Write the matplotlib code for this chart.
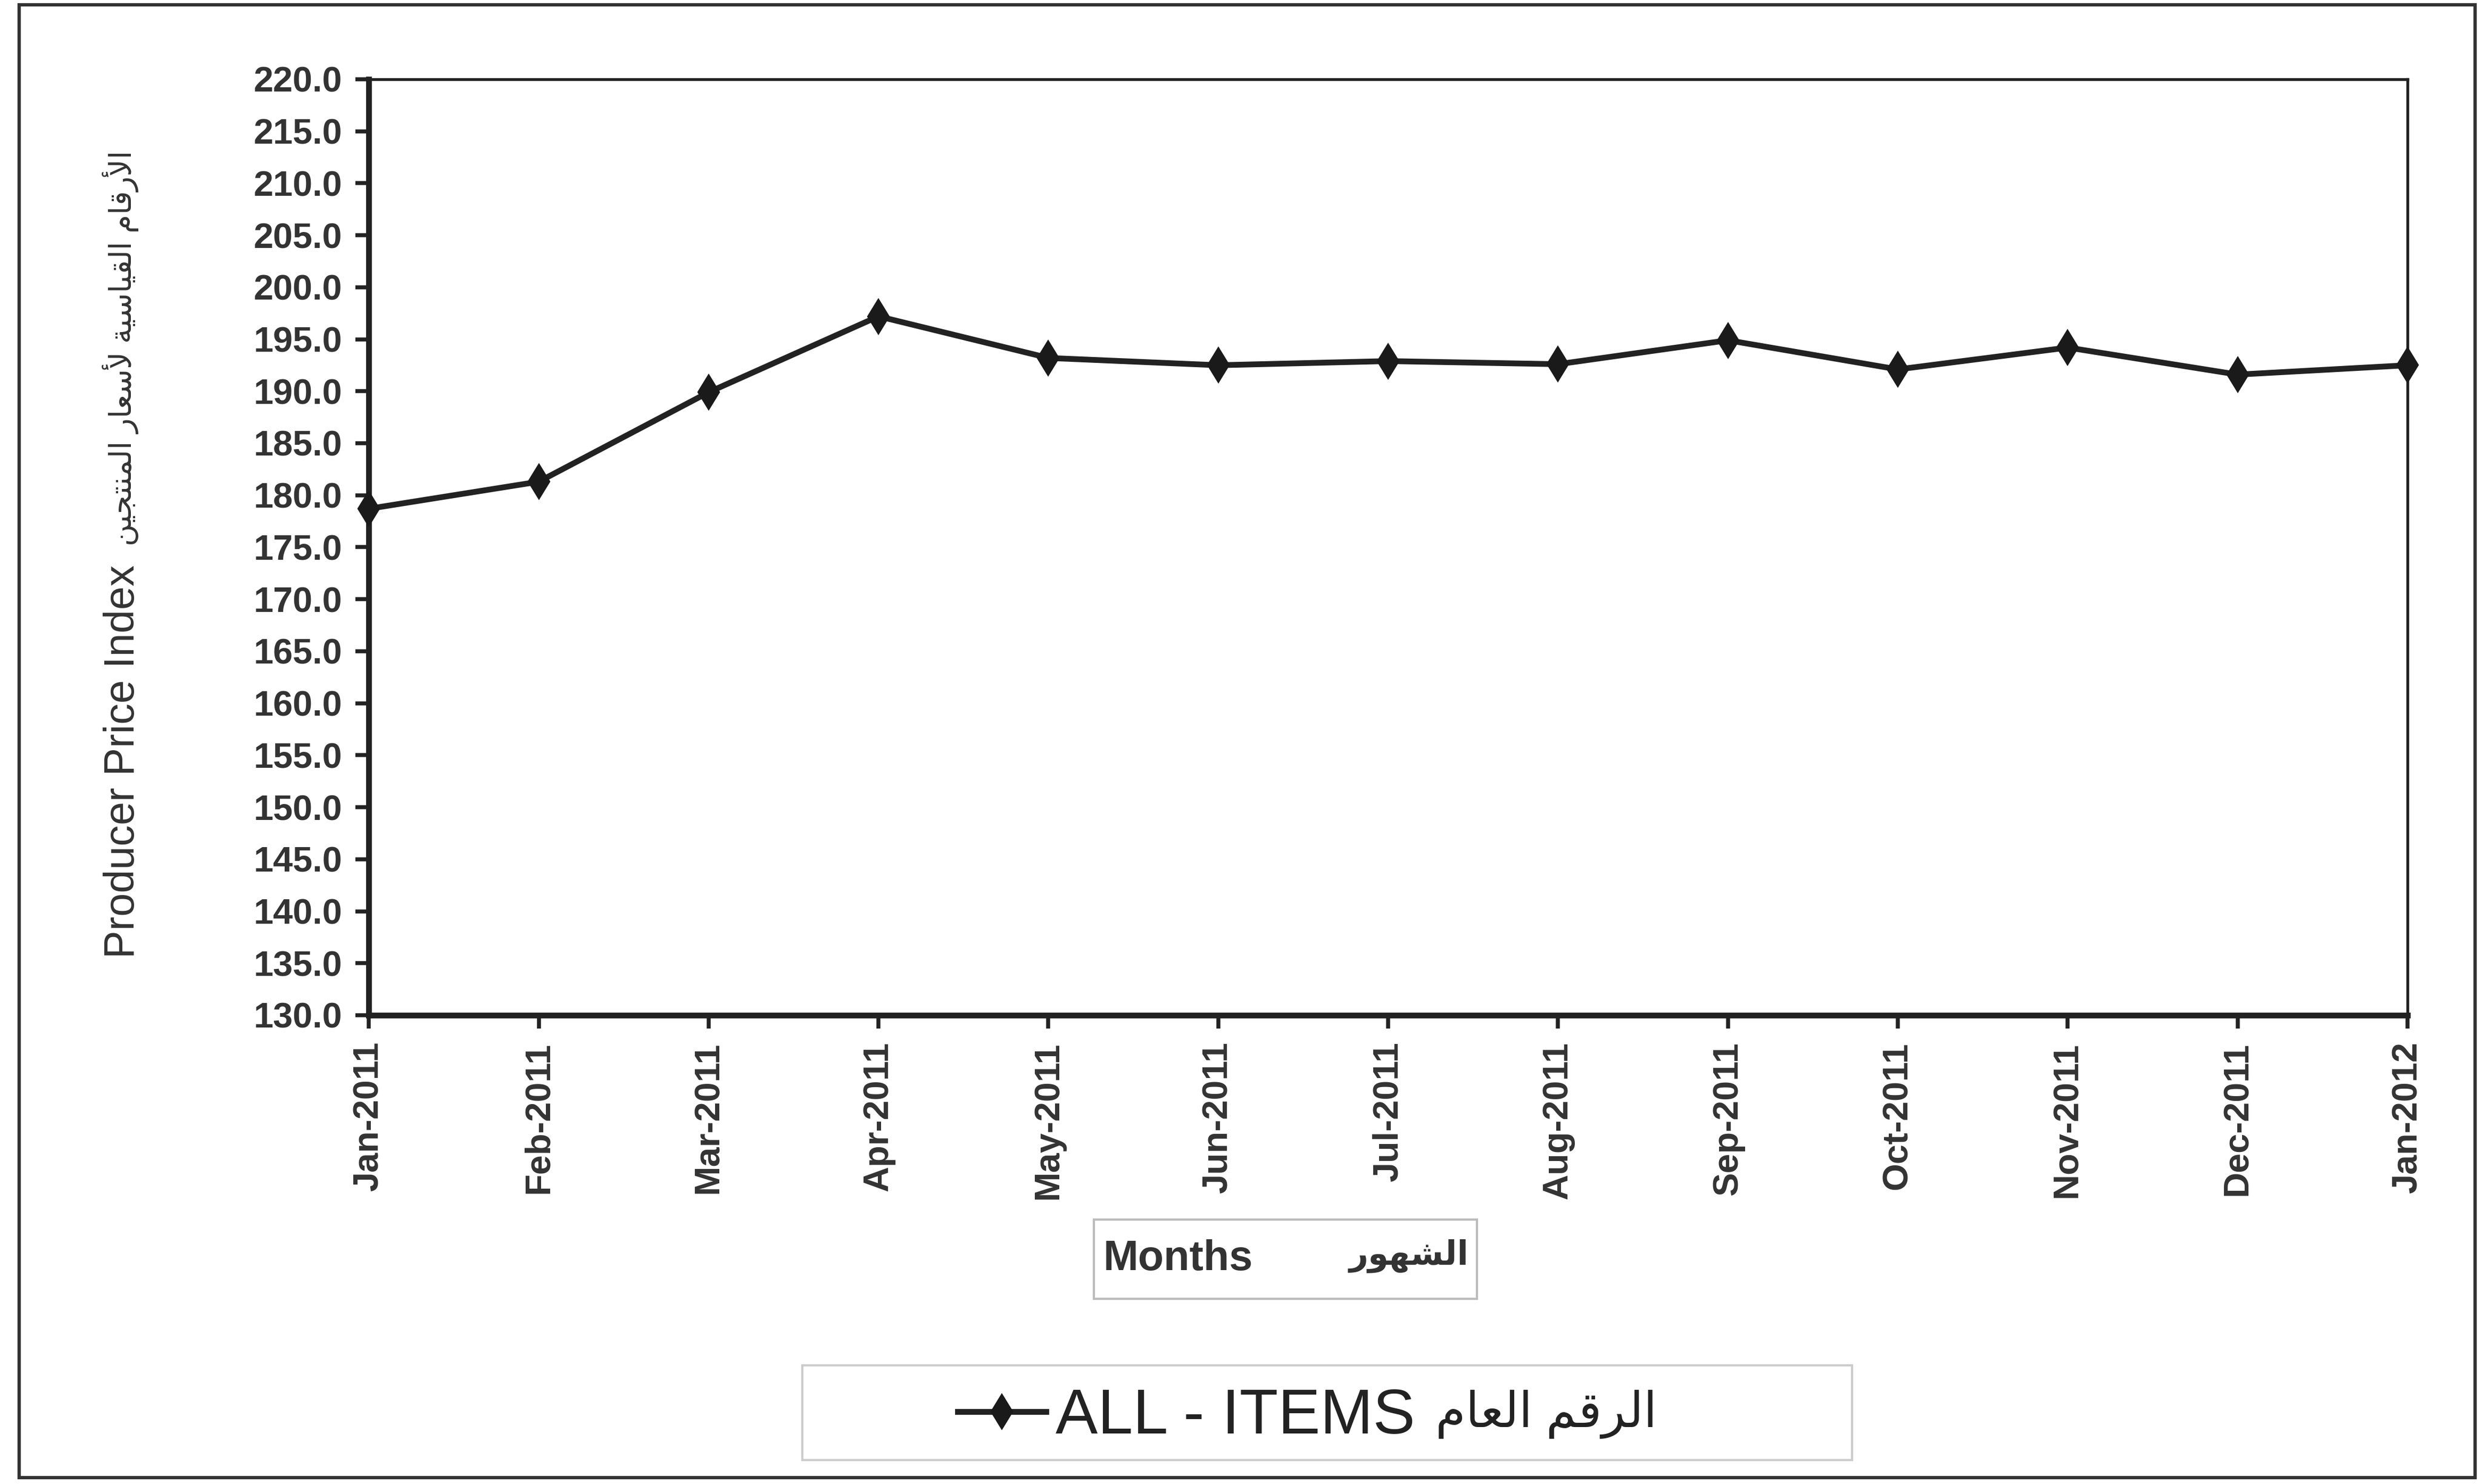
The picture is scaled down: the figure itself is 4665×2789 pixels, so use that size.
import numpy as np
import matplotlib
matplotlib.use("Agg")
import matplotlib.pyplot as plt
from matplotlib.patches import Rectangle
from matplotlib.ticker import MultipleLocator, FormatStrFormatter

plt.rcParams["font.family"] = ["Liberation Sans", "DejaVu Sans"]

months = ["Jan-2011", "Feb-2011", "Mar-2011", "Apr-2011", "May-2011", "Jun-2011",
          "Jul-2011", "Aug-2011", "Sep-2011", "Oct-2011", "Nov-2011", "Dec-2011",
          "Jan-2012"]
ppi = [178.7, 181.3, 189.9, 197.2, 193.2, 192.5, 192.9, 192.6, 194.9, 192.1, 194.2, 191.6, 192.5]

series_name = "ALL - ITEMS"
series_name_ar = "الرقم العام"
ylabel_en = "Producer Price Index"
ylabel_ar = "الأرقام القياسية لأسعار المنتجين"
xlabel_en = "Months"
xlabel_ar = "الشهور"

# matplotlib has no arabic shaping, so pick the presentation forms by hand
# forms: isolated, final, initial, medial
FORMS = {
    "ا": ("\uFE8D", "\uFE8E", None, None),
    "أ": ("\uFE83", "\uFE84", None, None),
    "ة": ("\uFE93", "\uFE94", None, None),
    "ت": ("\uFE95", "\uFE96", "\uFE97", "\uFE98"),
    "ج": ("\uFE9D", "\uFE9E", "\uFE9F", "\uFEA0"),
    "ر": ("\uFEAD", "\uFEAE", None, None),
    "س": ("\uFEB1", "\uFEB2", "\uFEB3", "\uFEB4"),
    "ش": ("\uFEB5", "\uFEB6", "\uFEB7", "\uFEB8"),
    "ع": ("\uFEC9", "\uFECA", "\uFECB", "\uFECC"),
    "ق": ("\uFED5", "\uFED6", "\uFED7", "\uFED8"),
    "ل": ("\uFEDD", "\uFEDE", "\uFEDF", "\uFEE0"),
    "م": ("\uFEE1", "\uFEE2", "\uFEE3", "\uFEE4"),
    "ن": ("\uFEE5", "\uFEE6", "\uFEE7", "\uFEE8"),
    "ه": ("\uFEE9", "\uFEEA", "\uFEEB", "\uFEEC"),
    "و": ("\uFEED", "\uFEEE", None, None),
    "ي": ("\uFEF1", "\uFEF2", "\uFEF3", "\uFEF4"),
}
LAM_ALEF = {"ا": ("\uFEFB", "\uFEFC"), "أ": ("\uFEF7", "\uFEF8")}


def shape_arabic(s):
    toks = []
    i = 0
    while i < len(s):
        if s[i] == "ل" and i + 1 < len(s) and s[i + 1] in LAM_ALEF:
            toks.append(("LA", s[i + 1]))
            i += 2
        else:
            toks.append(("C", s[i]))
            i += 1

    def joins_next(t):
        if t[0] == "LA":
            return False
        f = FORMS.get(t[1])
        return f is not None and f[2] is not None

    def joins_prev(t):
        return t[0] == "LA" or t[1] in FORMS

    out = []
    for k, t in enumerate(toks):
        pj = k > 0 and joins_next(toks[k - 1]) and joins_prev(t)
        nj = k + 1 < len(toks) and joins_next(t) and joins_prev(toks[k + 1])
        if t[0] == "LA":
            iso, fin = LAM_ALEF[t[1]]
            out.append(fin if pj else iso)
            continue
        f = FORMS.get(t[1])
        if f is None:
            out.append(t[1])
        elif pj and nj:
            out.append(f[3])
        elif pj:
            out.append(f[1])
        elif nj:
            out.append(f[2])
        else:
            out.append(f[0])
    return "".join(reversed(out))


fig = plt.figure(figsize=(4665 / 300, 2789 / 300), dpi=300)
ax = fig.add_axes([0.1486, 0.3159, 0.8214, 0.6307])

x = np.arange(len(months))
ax.plot(x, ppi, color="#222222", lw=2.6, marker="d", ms=10.5, mfc="#1a1a1a",
        mec="#1a1a1a", label=series_name, clip_on=False, zorder=5)

ax.set_xlim(0, len(months) - 1)
ax.set_ylim(130, 220)
ax.yaxis.set_major_locator(MultipleLocator(5))
ax.yaxis.set_major_formatter(FormatStrFormatter("%.1f"))
ax.set_xticks(x)
ax.set_xticklabels(months, rotation=90)

for lab in ax.get_xticklabels() + ax.get_yticklabels():
    lab.set_fontweight("bold")
    lab.set_fontsize(16)
    lab.set_color("#333333")

ax.tick_params(axis="both", direction="out", length=6, width=1.8, color="#222222", pad=6)
ax.spines["left"].set_linewidth(2.6)
ax.spines["bottom"].set_linewidth(2.6)
ax.spines["top"].set_linewidth(1.3)
ax.spines["right"].set_linewidth(1.3)
for sp in ax.spines.values():
    sp.set_color("#222222")

# y axis title: english at the bottom, arabic above it
fig.text(0.0497, 1 - 605 / 937, ylabel_en, rotation=90, ha="center", va="bottom",
         fontsize=19, color="#333333")
fig.text(0.0485, 1 - 95 / 937, shape_arabic(ylabel_ar), rotation=90, ha="center", va="top",
         fontsize=13.6, color="#333333")

# x axis title in its own box
fig.patches.append(Rectangle((691 / 1568, 1 - 820 / 937), 242 / 1568, 50 / 937,
                             transform=fig.transFigure, fill=False, ec="#bbbbbb", lw=1.0))
fig.text(697 / 1568, 1 - 795 / 937, xlabel_en, ha="left", va="center", fontsize=19,
         fontweight="bold", color="#333333")
fig.text(928 / 1568, 1 - 793 / 937, shape_arabic(xlabel_ar), ha="right", va="center",
         fontsize=15, fontweight="bold", color="#333333")

# legend with its box
fig.patches.append(Rectangle((507 / 1568, 1 - 922 / 937), 663 / 1568, 60 / 937,
                             transform=fig.transFigure, fill=False, ec="#cccccc", lw=1.0))
leg = fig.legend(loc="center left", bbox_to_anchor=(605 / 1568, 1 - 895 / 937), frameon=False,
                 handlelength=1.4, handletextpad=0.15, borderpad=0, borderaxespad=0,
                 prop=dict(family=["Liberation Sans Narrow", "Liberation Sans", "DejaVu Sans"], size=28.5))
for t in leg.get_texts():
    t.set_color("#222222")
fig.text(907 / 1568, 1 - 893 / 937, shape_arabic(series_name_ar), ha="left", va="center",
         fontsize=22, color="#222222")

# outer frame of the chart
fig.patches.append(Rectangle((0.0077, 0.0043), 0.9895, 0.9925, transform=fig.transFigure,
                             fill=False, ec="#333333", lw=1.5))

fig.savefig("out.png", dpi=300)
